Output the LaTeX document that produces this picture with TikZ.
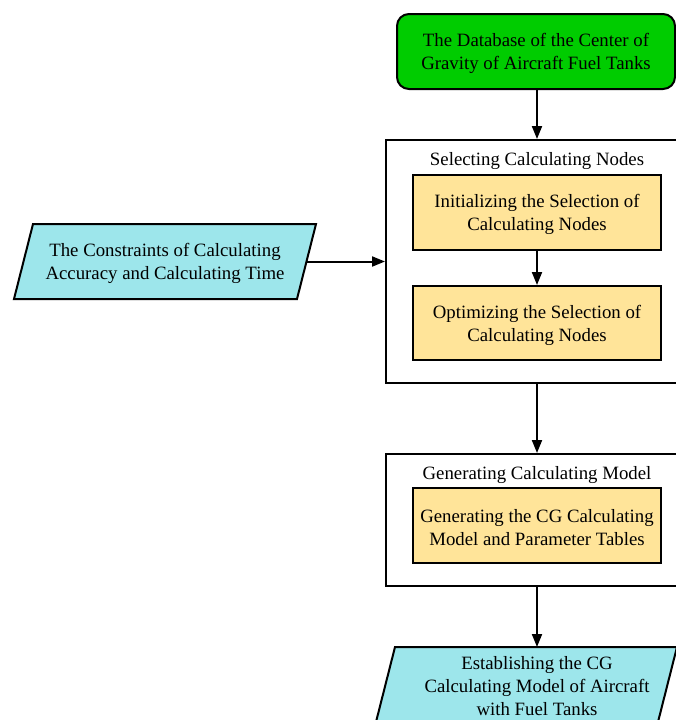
\documentclass[tikz,border=0pt]{standalone}
\usepackage{fontspec}
\setmainfont{Liberation Serif}
\usetikzlibrary{arrows.meta}
\definecolor{boxgreen}{RGB}{0,204,0}
\definecolor{boxyellow}{RGB}{255,228,153}
\definecolor{boxcyan}{RGB}{157,230,235}
\begin{document}
\begin{tikzpicture}[x=1pt,y=-1pt,
  every node/.style={font=\fontsize{18.8}{23}\selectfont, align=center, inner sep=0pt},
  txt/.style={yshift=-2pt},
  lw/.style={line width=2pt},
  arr/.style={lw, -{Triangle[length=13pt,width=10pt]}},
  dbbox/.style={draw, lw, fill=boxgreen, rounded corners=12pt, minimum width=278pt, minimum height=75pt},
  container/.style={draw, lw, minimum width=314pt},
  stepbox/.style={draw, lw, fill=boxyellow, minimum width=248pt},
  iobox/.style={draw, lw, fill=boxcyan, line join=miter}]
\clip (0,0) rectangle (676,720);
\fill[white] (0,0) rectangle (676,720);

% database
\node[dbbox] (db) at (536,51.5) {};
\node[txt] (dbt) at (db) {The Database of the Center of\\Gravity of Aircraft Fuel Tanks};

% container 1
\node[container, minimum height=243pt] (sel) at (543,261.5) {};
\node[txt] (selt) at (537,159) {Selecting Calculating Nodes};
\node[stepbox, minimum height=75pt] (y1) at (537,212.5) {};
\node[txt] (y1t) at (y1) {Initializing the Selection of\\Calculating Nodes};
\node[stepbox, minimum height=74pt] (y2) at (537,323) {};
\node[txt] (y2t) at (y2) {Optimizing the Selection of\\Calculating Nodes};

% container 2
\node[container, minimum height=132pt] (gen) at (543,520) {};
\node[txt] (gent) at (537,473) {Generating Calculating Model};
\node[stepbox, minimum height=75pt] (y3) at (537,525.5) {};
\node[txt] (y3t) at (y3) {Generating the CG Calculating\\Model and Parameter Tables};

% constraints parallelogram
\draw[iobox] (33,224) -- (316,224) -- (297,299) -- (14,299) -- cycle;
\coordinate (consR) at (306.5,261.5);
\node[txt] (cons) at (165,261.5) {The Constraints of Calculating\\Accuracy and Calculating Time};

% result parallelogram
\draw[iobox] (395,647) -- (677,647) -- (658,722) -- (376,722) -- cycle;
\coordinate (estTop) at (537,647);
\node (est) at (537,686.5) {Establishing the CG\\Calculating Model of Aircraft\\with Fuel Tanks};

% connectors
\draw[arr] (db.south -| y1) -- (y1 |- sel.north);
\draw[arr] (y1.south) -- (y2.north);
\draw[arr] (y2 |- sel.south) -- (y3 |- gen.north);
\draw[arr] (y3 |- gen.south) -- (estTop);
\draw[arr] (consR) -- (consR -| sel.west);
\end{tikzpicture}
\end{document}
